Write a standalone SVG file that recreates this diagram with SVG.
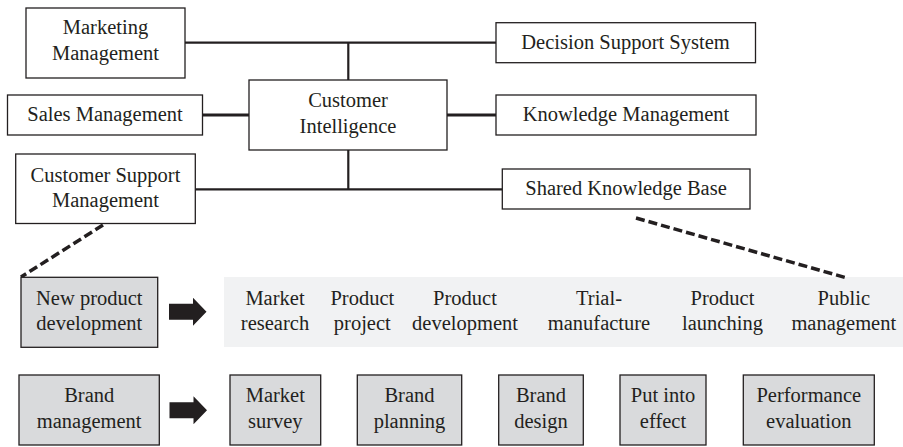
<svg xmlns="http://www.w3.org/2000/svg" width="903" height="447" viewBox="0 0 903 447" font-family="'Liberation Serif', 'Times New Roman', serif">
<style>
text{font-family:'Liberation Serif','Times New Roman',serif;font-size:20.5px;fill:#231f20;text-anchor:middle}
.box{fill:#fff;stroke:#231f20;stroke-width:1.3}
.gbox{fill:#d9dadc;stroke:#231f20;stroke-width:1.3}
.ln{stroke:#231f20;stroke-width:2.2;fill:none}
.thk{stroke:#231f20;stroke-width:3.2;fill:none}
.dash{stroke:#231f20;stroke-width:3.5;stroke-dasharray:9 4;fill:none}
.arr{fill:#231f20}
</style>
<defs>
<path id="barrow" d="M0,-8 H24 V-14 L37.5,0 L24,14 V8 H0 Z"/>
</defs>
<rect x="224" y="277" width="679" height="70" fill="#f1f2f3"/>
<g id="connectors">
<line class="ln" x1="185" y1="42.7" x2="496" y2="42.7"/>
<line class="ln" x1="348.3" y1="42.7" x2="348.3" y2="80"/>
<line class="thk" x1="203" y1="115" x2="249" y2="115"/>
<line class="thk" x1="447" y1="115" x2="496" y2="115"/>
<line class="ln" x1="348.3" y1="150" x2="348.3" y2="189.3"/>
<line class="ln" x1="195" y1="189.3" x2="502" y2="189.3"/>
<line class="dash" x1="103" y1="225" x2="21" y2="277"/>
<line class="dash" x1="636" y1="218" x2="847" y2="278"/>
<use id="arrow1" href="#barrow" class="arr" x="169" y="311.7"/>
<use id="arrow2" href="#barrow" class="arr" x="169.5" y="410.3"/>
</g>
<g id="marketing-management"><rect class="box" x="26" y="8" width="159" height="70"/><text x="105.5" y="33.5">Marketing</text><text x="105.5" y="60">Management</text></g>
<g id="sales-management"><rect class="box" x="7.5" y="95" width="195" height="40"/><text x="105" y="121">Sales Management</text></g>
<g id="customer-intelligence"><rect class="box" x="249" y="80" width="198" height="70"/><text x="348" y="106.5">Customer</text><text x="348" y="133">Intelligence</text></g>
<g id="customer-support-management"><rect class="box" x="15.7" y="154" width="179.6" height="69.5"/><text x="105.5" y="181.5">Customer Support</text><text x="105.5" y="207">Management</text></g>
<g id="decision-support-system"><rect class="box" x="496" y="22.7" width="259.5" height="40"/><text x="625.5" y="49">Decision Support System</text></g>
<g id="knowledge-management"><rect class="box" x="496" y="95" width="260" height="40"/><text x="626" y="121">Knowledge Management</text></g>
<g id="shared-knowledge-base"><rect class="box" x="502.3" y="169" width="247.7" height="40"/><text x="626" y="195">Shared Knowledge Base</text></g>
<g id="new-product-development"><rect class="gbox" x="21" y="277.3" width="136.7" height="70"/><text x="89.3" y="305">New product</text><text x="89.3" y="330">development</text></g>
<g id="npd-steps">
<text x="275" y="305">Market</text><text x="275" y="330">research</text>
<text x="362.3" y="305">Product</text><text x="362.3" y="330">project</text>
<text x="465" y="305">Product</text><text x="465" y="330">development</text>
<text x="599" y="305">Trial-</text><text x="599" y="330">manufacture</text>
<text x="722.5" y="305">Product</text><text x="722.5" y="330">launching</text>
<text x="843.8" y="305">Public</text><text x="843.8" y="330">management</text>
</g>
<g id="brand-management"><rect class="gbox" x="19" y="375" width="140.3" height="70"/><text x="89.2" y="401.7">Brand</text><text x="89.2" y="428.3">management</text></g>
<g id="market-survey"><rect class="gbox" x="230" y="375" width="90.7" height="70"/><text x="275.3" y="401.7">Market</text><text x="275.3" y="428.3">survey</text></g>
<g id="brand-planning"><rect class="gbox" x="357.3" y="375" width="104.4" height="70"/><text x="409.5" y="401.7">Brand</text><text x="409.5" y="428.3">planning</text></g>
<g id="brand-design"><rect class="gbox" x="498.7" y="375" width="84.6" height="70"/><text x="541" y="401.7">Brand</text><text x="541" y="428.3">design</text></g>
<g id="put-into-effect"><rect class="gbox" x="620" y="375" width="86" height="70"/><text x="663" y="401.7">Put into</text><text x="663" y="428.3">effect</text></g>
<g id="performance-evaluation"><rect class="gbox" x="743.3" y="375" width="131" height="70"/><text x="808.8" y="401.7">Performance</text><text x="808.8" y="428.3">evaluation</text></g>
</svg>
